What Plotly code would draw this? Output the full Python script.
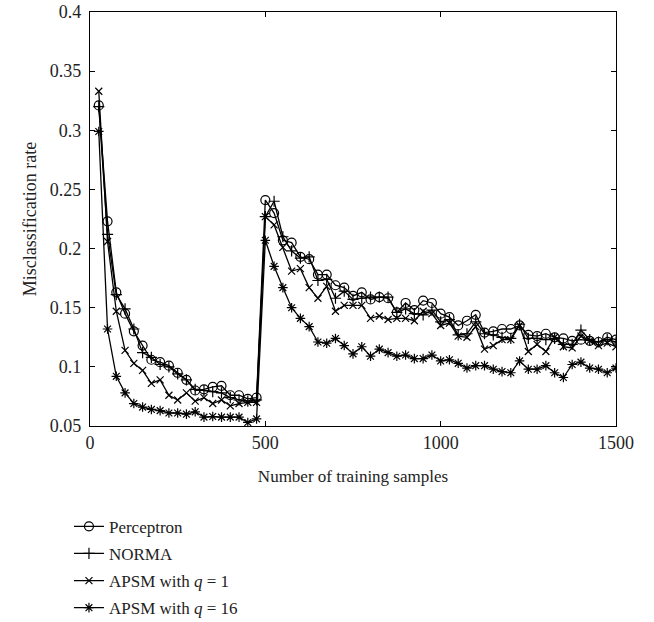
import plotly.graph_objects as go

samples = list(range(25, 1501, 25))

perceptron = [0.321, 0.223, 0.163, 0.145, 0.130, 0.118, 0.106, 0.104, 0.101, 0.095,
              0.089, 0.080, 0.081, 0.083, 0.084, 0.076, 0.076, 0.073, 0.074,
              0.241, 0.230, 0.207, 0.205, 0.193, 0.191, 0.178, 0.178, 0.169, 0.167,
              0.160, 0.163, 0.157, 0.159, 0.158, 0.146, 0.154, 0.148, 0.156, 0.154,
              0.145, 0.142, 0.135, 0.139, 0.144, 0.129, 0.130, 0.132, 0.132, 0.135,
              0.127, 0.126, 0.128, 0.125, 0.124, 0.122, 0.123, 0.122, 0.121, 0.125, 0.123]

norma = [0.320, 0.212, 0.161, 0.149, 0.132, 0.112, 0.108, 0.102, 0.100, 0.094,
         0.089, 0.081, 0.080, 0.079, 0.078, 0.074, 0.072, 0.071, 0.072,
         0.227, 0.240, 0.210, 0.198, 0.192, 0.193, 0.173, 0.174, 0.158, 0.164,
         0.157, 0.158, 0.159, 0.159, 0.159, 0.146, 0.149, 0.145, 0.144, 0.148,
         0.138, 0.140, 0.127, 0.128, 0.138, 0.128, 0.127, 0.125, 0.124, 0.136,
         0.124, 0.124, 0.123, 0.124, 0.119, 0.119, 0.131, 0.123, 0.121, 0.123, 0.121]

apsm_q1 = [0.333, 0.206, 0.147, 0.114, 0.103, 0.097, 0.086, 0.089, 0.076, 0.072,
           0.078, 0.071, 0.074, 0.069, 0.072, 0.067, 0.069, 0.070, 0.070,
           0.227, 0.220, 0.201, 0.181, 0.183, 0.167, 0.158, 0.168, 0.147, 0.152,
           0.152, 0.152, 0.141, 0.143, 0.140, 0.141, 0.141, 0.139, 0.147, 0.145,
           0.135, 0.137, 0.126, 0.125, 0.134, 0.115, 0.118, 0.123, 0.123, 0.135,
           0.113, 0.119, 0.113, 0.125, 0.117, 0.116, 0.126, 0.122, 0.118, 0.120, 0.117]

apsm_q16 = [0.299, 0.132, 0.092, 0.078, 0.069, 0.066, 0.064, 0.063, 0.061, 0.061,
            0.060, 0.062, 0.0575, 0.058, 0.0575, 0.0575, 0.0575, 0.053, 0.056,
            0.207, 0.185, 0.167, 0.150, 0.141, 0.134, 0.121, 0.120, 0.124, 0.118,
            0.111, 0.117, 0.109, 0.115, 0.112, 0.109, 0.110, 0.107, 0.107, 0.110,
            0.105, 0.106, 0.103, 0.099, 0.101, 0.101, 0.098, 0.096, 0.095, 0.105,
            0.098, 0.098, 0.101, 0.095, 0.091, 0.102, 0.104, 0.099, 0.098, 0.095, 0.099]

x_ticks = [0, 500, 1000, 1500]
y_ticks = [0.05, 0.1, 0.15, 0.2, 0.25, 0.3, 0.35, 0.4]
y_tick_text = ["0.05", "0.1", "0.15", "0.2", "0.25", "0.3", "0.35", "0.4"]

series = [
    ("Perceptron", perceptron, "circle-open", 9),
    ("NORMA", norma, "cross-thin-open", 8),
    ("APSM with <i>q</i> = 1", apsm_q1, "x-thin-open", 7),
    ("APSM with <i>q</i> = 16", apsm_q16, "asterisk-open", 8),
]

fig = go.Figure()
for i, (name, vals, sym, sz) in enumerate(series):
    fig.add_trace(go.Scatter(
        x=samples, y=vals, name=name, mode="lines+markers",
        legendgroup=str(i),
        line=dict(color="black", width=1.3),
        marker=dict(symbol=sym, size=sz, color="black",
                    line=dict(color="black", width=1.2)),
    ))

font_family = "Liberation Serif, DejaVu Serif, serif"
axis_common = dict(
    showline=True, linecolor="black", linewidth=1.2, mirror="ticks",
    ticks="inside", ticklen=5, tickcolor="black", tickwidth=1,
    showgrid=False, zeroline=False, automargin=False,
    tickfont=dict(family=font_family, size=18, color="#222"),
)

fig.update_layout(
    width=654, height=622,
    margin=dict(l=90, r=38, t=12, b=196, autoexpand=False),
    paper_bgcolor="white", plot_bgcolor="white",
    font=dict(family=font_family, size=17, color="#222"),
    xaxis=dict(range=[0, 1500], tickvals=x_ticks,
               title=dict(text="Number of training samples", standoff=18,
                          font=dict(family=font_family, size=17, color="#222")),
               **axis_common),
    yaxis=dict(range=[0.05, 0.4], tickvals=y_ticks, ticktext=y_tick_text,
               ticklabelstandoff=4,
               title=dict(text="Misclassification rate", standoff=8,
                          font=dict(family=font_family, size=18, color="#222")),
               **axis_common),
    showlegend=True,
    legend=dict(x=-0.04, y=-0.2, xanchor="left", yanchor="top",
                font=dict(family=font_family, size=17, color="#222"),
                itemwidth=30, tracegroupgap=2, bgcolor="rgba(0,0,0,0)"),
)

fig.write_html("out.html")
